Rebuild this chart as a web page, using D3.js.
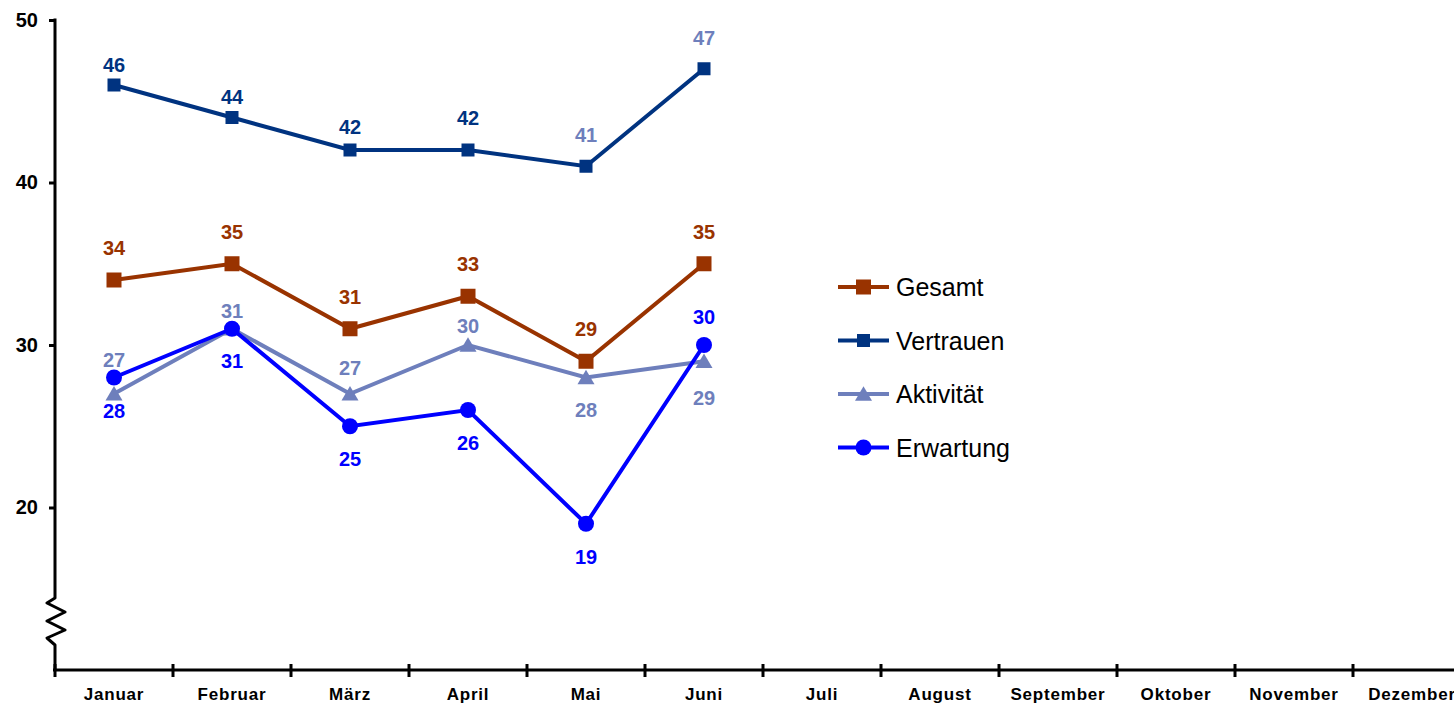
<!DOCTYPE html>
<html>
<head>
<meta charset="utf-8">
<script src="https://cdn.jsdelivr.net/npm/d3@7/dist/d3.min.js"></script>
<style>
  html, body { margin: 0; padding: 0; background: #fff; }
  svg { display: block; font-family: "Liberation Sans", Arial, sans-serif; }
</style>
</head>
<body>
<svg id="chart" width="1454" height="705"></svg>
<script>
// Monthly index values
const months = ["Januar", "Februar", "März", "April", "Mai", "Juni",
                "Juli", "August", "September", "Oktober", "November", "Dezember"];
const yTicks = [20, 30, 40, 50];

const gesamt     = [34, 35, 31, 33, 29, 35];
const vertrauen  = [46, 44, 42, 42, 41, 47];
const aktivitaet = [27, 31, 27, 30, 28, 29];
const erwartung  = [28, 31, 25, 26, 19, 30];

// Label placement (pixel offset of each value label from its point)
const gesamtLabelDy     = [-32, -32, -32, -32, -32, -32];
const vertrauenLabelDy  = [-20, -21, -23, -32, -31, -31];
const aktivitaetLabelDy = [-34, -18, -26, -19, 32, 37];
const erwartungLabelDy  = [33, 32, 33, 33, 33, -28];

const C = {
  gesamt: "#993300",
  vertrauen: "#003380",
  aktivitaet: "#6e7fbc",
  erwartung: "#0000ff"
};

const series = [
  { name: "Gesamt", values: gesamt, color: C.gesamt, marker: "square", size: 15,
    labelDy: gesamtLabelDy, labelColors: gesamt.map(() => C.gesamt) },
  { name: "Vertrauen", values: vertrauen, color: C.vertrauen, marker: "square", size: 13,
    labelDy: vertrauenLabelDy,
    labelColors: [C.vertrauen, C.vertrauen, C.vertrauen, C.vertrauen, C.aktivitaet, C.aktivitaet] },
  { name: "Aktivität", values: aktivitaet, color: C.aktivitaet, marker: "triangle", size: 15,
    labelDy: aktivitaetLabelDy, labelColors: aktivitaet.map(() => C.aktivitaet) },
  { name: "Erwartung", values: erwartung, color: C.erwartung, marker: "circle", size: 16,
    labelDy: erwartungLabelDy, labelColors: erwartung.map(() => C.erwartung) }
];

const svg = d3.select("#chart");
const axisX = 55, axisBottom = 670;

const x = d3.scaleBand().domain(months).range([axisX, axisX + 12 * 118]).paddingInner(0).paddingOuter(0);
const y = d3.scaleLinear().domain([10, 50]).range([axisBottom, 20]);

// ---- Y axis with break
const yAxis = d3.axisLeft(y).tickValues(yTicks).tickSize(6).tickPadding(11).tickFormat(d3.format("d"));
const gy = svg.append("g").attr("transform", `translate(${axisX},0)`).call(yAxis);
gy.select(".domain").remove();
gy.selectAll(".tick line").attr("stroke", "#000").attr("stroke-width", 3);
gy.selectAll(".tick text")
  .attr("fill", "#000").style("font-size", "20px").style("font-weight", "bold")
  .style("font-family", "'Liberation Sans', Arial, sans-serif");

const breakTop = 598, breakBottom = 645;
const zig = [
  [axisX, y(50) - 1.5], [axisX, breakTop], [axisX - 8, breakTop + 5],
  [axisX + 10, breakTop + 14], [axisX - 8, breakTop + 23],
  [axisX + 10, breakTop + 32], [axisX - 8, breakTop + 40],
  [axisX, breakBottom], [axisX, axisBottom]
];
svg.append("path")
  .attr("d", d3.line()(zig))
  .attr("fill", "none").attr("stroke", "#000").attr("stroke-width", 3)
  .attr("stroke-linejoin", "round");

// ---- X axis with boundary ticks
svg.append("line")
  .attr("x1", axisX - 2).attr("x2", 1454).attr("y1", axisBottom).attr("y2", axisBottom)
  .attr("stroke", "#000").attr("stroke-width", 3);

const boundaries = months.map(m => x(m));
svg.append("g").selectAll("line").data(boundaries).join("line")
  .attr("x1", d => d).attr("x2", d => d)
  .attr("y1", axisBottom - 6).attr("y2", axisBottom + 7)
  .attr("stroke", "#000").attr("stroke-width", 3);

const xAxis = d3.axisBottom(x).tickSize(0).tickPadding(18);
const gx = svg.append("g").attr("transform", `translate(0,${axisBottom})`).call(xAxis);
gx.select(".domain").remove();
gx.selectAll(".tick text")
  .attr("fill", "#000").style("font-size", "17px").style("font-weight", "bold")
  .style("letter-spacing", "0.8px")
  .style("font-family", "'Liberation Sans', Arial, sans-serif");

// ---- Markers
function drawMarker(g, type, size, color) {
  if (type === "square") {
    g.append("rect").attr("x", -size / 2).attr("y", -size / 2)
      .attr("width", size).attr("height", size).attr("fill", color);
  } else if (type === "circle") {
    g.append("circle").attr("r", size / 2).attr("fill", color);
  } else if (type === "triangle") {
    const h = size * 0.9;
    g.append("path")
      .attr("d", `M0,${-h / 2 - 1} L${size / 2 + 1},${h / 2} L${-size / 2 - 1},${h / 2} Z`)
      .attr("fill", color);
  }
}

const cx = m => x(m) + x.bandwidth() / 2;
const line = d3.line().x((d, i) => cx(months[i])).y(d => y(d));

series.forEach(s => {
  const g = svg.append("g");
  g.append("path").datum(s.values)
    .attr("d", line)
    .attr("fill", "none").attr("stroke", s.color).attr("stroke-width", 4)
    .attr("stroke-linejoin", "miter");
  s.values.forEach((v, i) => {
    const mg = g.append("g").attr("transform", `translate(${cx(months[i])},${y(v)})`);
    drawMarker(mg, s.marker, s.size, s.color);
  });
});

// ---- Value labels
series.forEach(s => {
  svg.append("g").selectAll("text").data(s.values).join("text")
    .attr("x", (d, i) => cx(months[i]))
    .attr("y", (d, i) => y(d) + s.labelDy[i])
    .attr("dy", "0.35em")
    .attr("text-anchor", "middle")
    .attr("fill", (d, i) => s.labelColors[i])
    .style("font-size", "20px").style("font-weight", "bold")
    .text(d => d);
});

// ---- Legend
const legend = svg.append("g").attr("transform", "translate(838,287)");
series.forEach((s, i) => {
  const row = legend.append("g").attr("transform", `translate(0,${i * 53.5})`);
  row.append("line").attr("x1", 0).attr("x2", 51).attr("y1", 0).attr("y2", 0)
    .attr("stroke", s.color).attr("stroke-width", 4);
  const mg = row.append("g").attr("transform", "translate(25.5,0)");
  drawMarker(mg, s.marker, s.size, s.color);
  row.append("text").attr("x", 58).attr("y", 0).attr("dy", "0.36em")
    .attr("fill", "#000").style("font-size", "25px")
    .text(s.name);
});
</script>
</body>
</html>
